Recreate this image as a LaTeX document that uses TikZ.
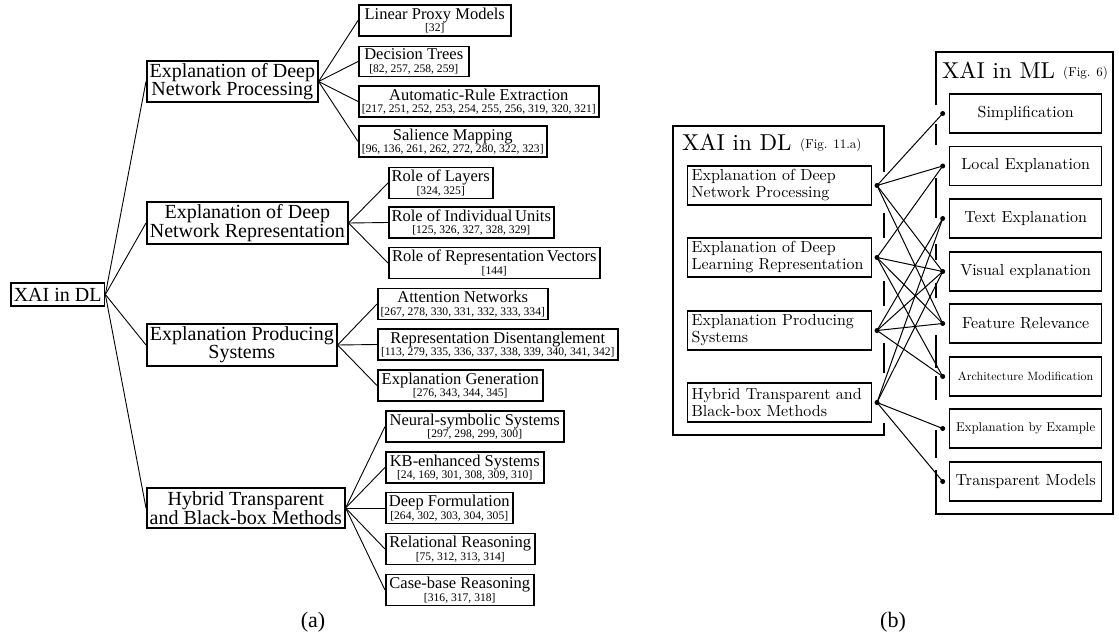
\documentclass[tikz,border=0pt]{standalone}
\usepackage{fontspec}
\newfontfamily\timesfont{Liberation Serif}
\newfontfamily\cmfont{lmroman10-regular}[Extension=.otf]
\newcommand{\reflist}[1]{{\fontsize{11.6}{12.4}\selectfont #1}}
\newcommand{\tightlines}{\lineskiplimit=-20pt\relax}

\begin{document}
\begin{tikzpicture}[x=1pt,y=-1pt]
        \tikzstyle{root}=[draw,line width=1.6pt,anchor=west,inner xsep=3pt,minimum height=23,font=\timesfont\fontsize{20}{20}\selectfont]
        \tikzstyle{group}=[draw,line width=1.6pt,anchor=west,align=center,inner xsep=2pt,inner ysep=1pt,font=\timesfont\fontsize{20}{18.4}\selectfont\tightlines]
        \tikzstyle{leaf}=[draw,line width=1.5pt,anchor=west,align=center,inner xsep=2pt,inner ysep=1pt,minimum height=31,font=\timesfont\fontsize{16.5}{12.4}\selectfont\tightlines]
        \tikzstyle{branch}=[draw,line width=0.9pt]
        \tikzstyle{frame}=[line width=2pt]
        \tikzstyle{dlbox}=[draw,line width=1.3pt,anchor=west,align=left,text width=176pt,inner xsep=4pt,inner ysep=1pt,minimum height=39,font=\cmfont\fontsize{16}{17}\selectfont]
        \tikzstyle{mlbox}=[draw,line width=1.3pt,anchor=west,minimum width=152,minimum height=39,inner sep=1pt,font=\cmfont\fontsize{16}{17}\selectfont]
        \tikzstyle{dot}=[circle,fill=black,inner sep=0pt,minimum size=5pt]
        \tikzstyle{edge}=[draw,line width=1pt]
        \useasboundingbox (0,0) rectangle (1119,639);

       % (a) the tree
       \begin{scope}
         \node [root] (xdl) at (10,294.5) {XAI in DL};
         \node [group,minimum width=171,minimum height=41] (proc) at (146,81.5) {Explanation of Deep\\Network Processing};
         \node [group,minimum width=201,minimum height=42] (repr) at (146,223) {Explanation of Deep\\Network Representation};
         \node [group,minimum width=190,minimum height=42] (prod) at (146,345) {Explanation Producing\\Systems};
         \node [group,minimum width=198,minimum height=40] (hyb) at (146,508) {Hybrid Transparent\\and Black-box Methods};

         \node [leaf,minimum width=152] (lpm) at (358,20.5) {Linear Proxy Models\\\reflist{[32]}};
         \node [leaf,minimum width=110,minimum height=30] (dt) at (358,61.5) {Decision Trees\\\reflist{[82, 257, 258, 259]}};
         \node [leaf,minimum width=240] (are) at (358,101.5) {Automatic-Rule Extraction\\\reflist{[217, 251, 252, 253, 254, 255, 256, 319, 320, 321]}};
         \node [leaf,minimum width=188] (sm) at (358,141.5) {Salience Mapping\\\reflist{[96, 136, 261, 262, 272, 280, 322, 323]}};

         \node [leaf,minimum width=104] (rol) at (388,183) {Role of Layers\\\reflist{[324, 325]}};
         \node [leaf,minimum width=165] (riu) at (388,222.5) {Role of Individual\,Units\\\reflist{[125, 326, 327, 328, 329]}};
         \node [leaf,minimum width=211] (rrv) at (388,263) {Role of Representation\,Vectors\\\reflist{[144]}};

         \node [leaf,minimum width=170] (an) at (377,304) {Attention Networks\\\reflist{[267, 278, 330, 331, 332, 333, 334]}};
         \node [leaf,minimum width=240] (rd) at (377,344.5) {Representation Disentanglement\\\reflist{[113, 279, 335, 336, 337, 338, 339, 340, 341, 342]}};
         \node [leaf,minimum width=165] (eg) at (377,385.5) {Explanation Generation\\\reflist{[276, 343, 344, 345]}};

         \node [leaf,minimum width=178] (ns) at (385,426.5) {Neural-symbolic Systems\\\reflist{[297, 298, 299, 300]}};
         \node [leaf,minimum width=158] (kb) at (385,467.5) {KB-enhanced Systems\\\reflist{[24, 169, 301, 308, 309, 310]}};
         \node [leaf,minimum width=127] (df) at (385,508) {Deep Formulation\\\reflist{[264, 302, 303, 304, 305]}};
         \node [leaf,minimum width=149] (rr) at (385,549) {Relational Reasoning\\\reflist{[75, 312, 313, 314]}};
         \node [leaf,minimum width=148] (cr) at (385,590) {Case-base Reasoning\\\reflist{[316, 317, 318]}};

         \foreach \g in {proc,repr,prod,hyb}
           \path[branch] (xdl.east) edge (\g.west);
         \foreach \l in {lpm,dt,are,sm}
           \path[branch] (proc.east) edge (\l.west);
         \foreach \l in {rol,riu,rrv}
           \path[branch] (repr.east) edge (\l.west);
         \foreach \l in {an,rd,eg}
           \path[branch] (prod.east) edge (\l.west);
         \foreach \l in {ns,kb,df,rr,cr}
           \path[branch] (hyb.east) edge (\l.west);

         \node [font=\timesfont\fontsize{22}{22}\selectfont] (capa) at (313,622) {(a)};
       \end{scope}

       % (b) DL categories against ML categories
       \begin{scope}
         \draw[frame] (884,172) -- (884,126) -- (673,126) -- (673,435) -- (884,435) -- (884,423);
         \foreach \a/\b in {213/238,281/306,343/373}
           \draw[frame] (884,\a) -- (884,\b);
         \draw[frame] (936,105) -- (936,52) -- (1113,52) -- (1113,514) -- (936,514) -- (936,470);
         \foreach \a/\b in {124/145,178/218,244/260,283/298,335/368,376/400,430/458}
           \draw[frame] (936,\a) -- (936,\b);

         \node [anchor=base west,inner sep=0pt,font=\cmfont\fontsize{23}{23}\selectfont] (dltitle) at (682,150.5) {XAI in DL};
         \node [anchor=base west,inner sep=0pt,font=\cmfont\fontsize{13}{13}\selectfont] (dlref) at (800,148.5) {(Fig. 11.a)};
         \node [anchor=base west,inner sep=0pt,font=\cmfont\fontsize{23}{23}\selectfont] (mltitle) at (942,79) {XAI in ML};
         \node [anchor=base west,inner sep=0pt,font=\cmfont\fontsize{13}{13}\selectfont] (mlref) at (1063,76.5) {(Fig. 6)};

         \node [dlbox] (d1) at (687,185.5) {Explanation of Deep\\Network Processing};
         \node [dlbox] (d2) at (687,257.5) {Explanation of Deep\\Learning Representation};
         \node [dlbox] (d3) at (687,330.5) {Explanation Producing\\Systems};
         \node [dlbox] (d4) at (687,402.5) {Hybrid Transparent and\\Black-box Methods};

         \node [mlbox] (m1) at (949,113.5) {Simplification};
         \node [mlbox] (m2) at (949,166) {Local Explanation};
         \node [mlbox] (m3) at (949,218.5) {Text Explanation};
         \node [mlbox] (m4) at (949,271.5) {Visual explanation};
         \node [mlbox] (m5) at (949,323.5) {Feature Relevance};
         \node [mlbox,font=\cmfont\fontsize{12}{12}\selectfont] (m6) at (949,376.5) {Architecture Modification};
         \node [mlbox,font=\cmfont\fontsize{12.8}{12.8}\selectfont] (m7) at (949,428.5) {Explanation by Example};
         \node [mlbox] (m8) at (949,481.5) {Transparent Models};

         \foreach \i/\y in {1/185.5,2/257.5,3/330.5,4/402.5}
           \node [dot] (l\i) at (877,\y) {};
         \foreach \i/\y in {1/113.5,2/166,3/218.5,4/271.5,5/323.5,6/376.5,7/428.5,8/481.5}
           \node [dot] (r\i) at (942.7,\y) {};

         \foreach \a/\b in {1/1,1/2,1/4,1/5,2/2,2/4,2/5,2/6,3/3,3/4,3/5,3/6,4/3,4/4,4/7,4/8}
           \path[edge] (l\a.center) edge (r\b.center);

         \node [font=\timesfont\fontsize{22}{22}\selectfont] (capb) at (893,622) {(b)};
       \end{scope}
\end{tikzpicture}
\end{document}
